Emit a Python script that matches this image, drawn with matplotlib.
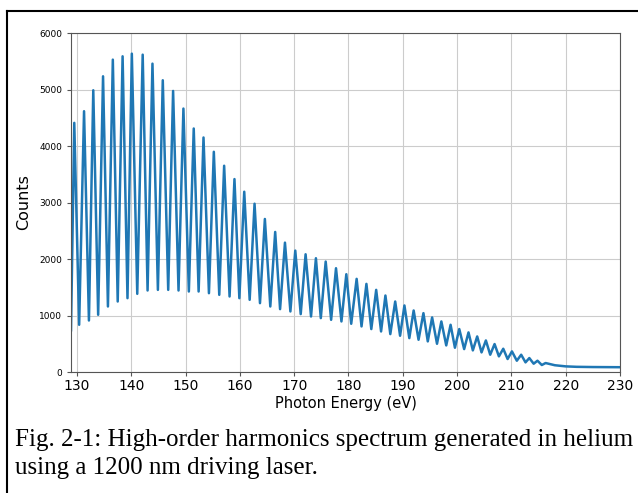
import numpy as np
import matplotlib
matplotlib.use("Agg")
import matplotlib.pyplot as plt
from matplotlib.lines import Line2D

# Harmonic peaks: photon energy (eV) and counts
peak_energy = [129.5, 131.3, 133.0, 134.8, 136.6, 138.4, 140.1, 142.1, 143.9, 145.8,
               147.7, 149.6, 151.5, 153.3, 155.2, 157.1, 159.0, 160.8, 162.7, 164.6,
               166.5, 168.3, 170.2, 172.1, 174.0, 175.8, 177.7, 179.6, 181.5, 183.3,
               185.1, 186.8, 188.6, 190.3, 192.0, 193.8, 195.4, 197.1, 198.8, 200.4,
               202.1, 203.7, 205.3, 206.9, 208.5, 210.1, 211.8, 213.3, 214.8, 216.3]
peak_counts = [4410, 4616, 4987, 5234, 5529, 5588, 5635, 5617, 5458, 5164,
               4975, 4663, 4310, 4151, 3898, 3651, 3415, 3191, 2979, 2709,
               2479, 2290, 2149, 2084, 2014, 1955, 1837, 1731, 1649, 1560,
               1454, 1354, 1248, 1178, 1089, 1042, 966, 895, 836, 760,
               701, 630, 559, 495, 412, 365, 306, 247, 200, 159]

# Minima between neighbouring harmonics
trough_energy = [130.4, 132.2, 133.9, 135.7, 137.5, 139.3, 141.1, 143.0, 144.9, 146.8,
                 148.7, 150.6, 152.4, 154.3, 156.2, 158.1, 159.9, 161.8, 163.7, 165.6,
                 167.4, 169.3, 171.2, 173.1, 174.9, 176.8, 178.7, 180.5, 182.4, 184.2,
                 186.0, 187.7, 189.5, 191.2, 192.9, 194.6, 196.3, 198.0, 199.6, 201.3,
                 202.9, 204.5, 206.1, 207.7, 209.3, 211.0, 212.6, 214.1, 215.6]
trough_counts = [836, 912, 1013, 1160, 1248, 1307, 1384, 1443, 1454, 1454,
                 1443, 1425, 1425, 1395, 1366, 1337, 1307, 1278, 1219, 1160,
                 1113, 1072, 1025, 983, 954, 924, 895, 854, 807, 760,
                 718, 671, 642, 600, 571, 542, 500, 471, 430, 406,
                 383, 347, 306, 277, 230, 200, 171, 147, 124]

# Flat background above the cutoff
start_energy, start_counts = 128.9, 740
tail_energy = [218.0, 220.0, 222.0, 225.0, 230.0]
tail_counts = [120, 100, 92, 88, 85]

xticks = [130, 140, 150, 160, 170, 180, 190, 200, 210, 220, 230]
yticks = [0, 1000, 2000, 3000, 4000, 5000, 6000]
caption_lines = ["Fig. 2-1: High-order harmonics spectrum generated in helium",
                 "using a 1200 nm driving laser."]

# Interleave peaks and troughs into one trace
energy = [start_energy]
counts = [start_counts]
for i in range(len(peak_energy)):
    energy.append(peak_energy[i])
    counts.append(peak_counts[i])
    if i < len(trough_energy):
        energy.append(trough_energy[i])
        counts.append(trough_counts[i])
energy += tail_energy
counts += tail_counts

fig = plt.figure(figsize=(6.38, 4.93), dpi=100)
ax = fig.add_axes([0.1113, 0.2454, 0.8605, 0.6876])

ax.plot(energy, counts, color="#1f77b4", lw=1.8, solid_joinstyle="round")

ax.set_xlim(128.9, 230)
ax.set_ylim(0, 6000)
ax.set_xticks(xticks)
ax.set_yticks(yticks)
ax.tick_params(axis="x", labelsize=10, length=3, color="#555555", pad=2)
ax.tick_params(axis="y", labelsize=6.5, length=3, color="#555555")
ax.grid(True, color="#cccccc", lw=0.8)
for sp in ax.spines.values():
    sp.set_color("#555555")

ax.set_xlabel("Photon Energy (eV)", fontsize=10.5, labelpad=2)
ax.set_ylabel("Counts", fontsize=11.5, labelpad=6)

# Caption below the plot, one line at a time
for k, line in enumerate(caption_lines):
    fig.text(15 / 638, 1 - (446 + 28 * k) / 493, line, family="Liberation Serif",
             fontsize=18, va="baseline")

# Frame around the figure
fig.add_artist(Line2D([7 / 638, 7 / 638], [0, 1 - 11 / 493], color="black", lw=1.5))
fig.add_artist(Line2D([7 / 638, 1], [1 - 11 / 493, 1 - 11 / 493], color="black", lw=1.5))

fig.savefig("out.png", dpi=100)
